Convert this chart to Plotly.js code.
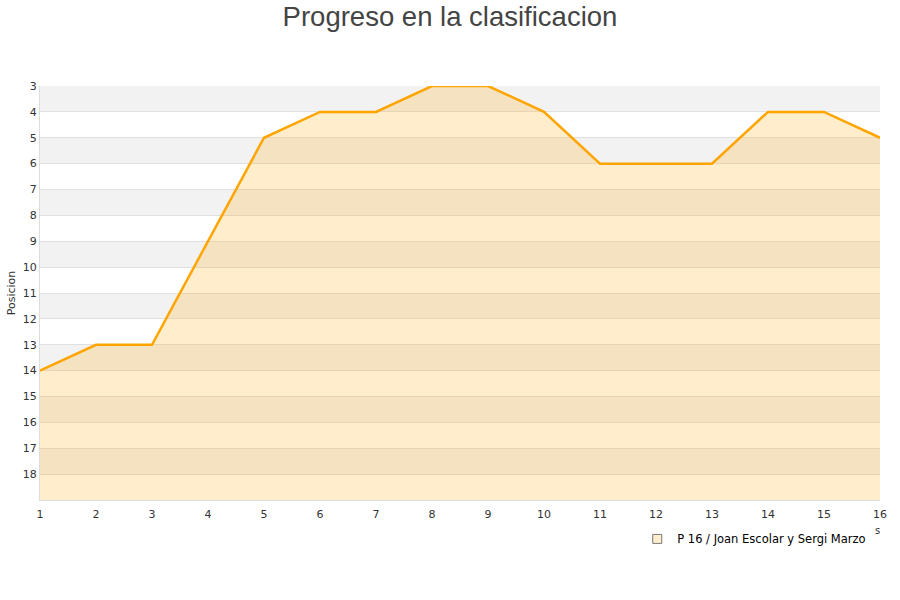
<!DOCTYPE html>
<html>
<head>
<meta charset="utf-8">
<script src="https://cdn.plot.ly/plotly-3.0.1.min.js"></script>
<style>html,body{margin:0;padding:0;background:#fff;}#chart{width:900px;height:600px;}</style>
</head>
<body>
<div id="chart"></div>
<script>
var jornadas = [1,2,3,4,5,6,7,8,9,10,11,12,13,14,15,16];
var posicion = [14,13,13,9,5,4,4,3,3,4,6,6,6,4,4,5];
var serieNombre = 'P 16 / Joan Escolar y Sergi Marzo';
var yTicks = [3,4,5,6,7,8,9,10,11,12,13,14,15,16,17,18];
var yMin = 3, yMax = 19;

var baseline = jornadas.map(function(){ return yMax; });

var bands = [];
for (var v = yMin; v < yMax; v += 2) {
  bands.push({type:'rect', xref:'paper', yref:'y', x0:0, x1:1, y0:v, y1:v+1,
    fillcolor:'#f2f2f2', line:{width:0}, layer:'below'});
}

var traces = [
  {x:jornadas, y:baseline, mode:'lines', line:{width:0, color:'rgba(0,0,0,0)'}, showlegend:false, hoverinfo:'skip'},
  {x:jornadas, y:posicion, mode:'lines', fill:'tonexty', fillcolor:'rgba(255,165,0,0.2)',
   line:{color:'#ffa500', width:2.5}, showlegend:false, name:serieNombre},
  {x:[null], y:[null], mode:'markers', name:serieNombre,
   marker:{symbol:'square', size:9, color:'#ffedcc', line:{color:'#777', width:1}}}
];

var layout = {
  width:900, height:600,
  margin:{l:40, r:20, t:86, b:100},
  paper_bgcolor:'#fff', plot_bgcolor:'rgba(0,0,0,0)',
  font:{family:'DejaVu Sans, sans-serif', size:11, color:'#333'},
  title:{text:'Progreso en la clasificacion', x:0.5, xanchor:'center', y:0.973, yanchor:'middle',
    font:{family:'Liberation Sans, Arial, sans-serif', size:27.5, color:'#444'}},
  xaxis:{range:[1,16], tickvals:jornadas, ticks:'outside', ticklen:4, tickcolor:'rgba(0,0,0,0)',
    showgrid:false, zeroline:false,
    showline:true, linecolor:'#dddddd', linewidth:1, mirror:false,
    tickfont:{size:11, color:'#333'}},
  yaxis:{range:[yMax,yMin], tickvals:yTicks, ticks:'', showgrid:true, gridcolor:'#e0e0e0',
    zeroline:false, showline:true, linecolor:'#dddddd', linewidth:1,
    tickfont:{size:11, color:'#333'},
    title:{text:'Posicion', font:{size:11, color:'#333'}, standoff:4}},
  shapes:bands,
  showlegend:true,
  legend:{orientation:'h', x:0.711, xanchor:'left', y:-0.094, yanchor:'middle',
    font:{size:11.5, color:'#000'}, bgcolor:'rgba(0,0,0,0)'},
  annotations:[{xref:'paper', yref:'paper', x:(877-40)/840, y:(500-530)/414, text:'s',
    showarrow:false, yanchor:'middle', xanchor:'center', font:{size:10, color:'#333'}}]
};

Plotly.newPlot('chart', traces, layout, {displayModeBar:false, staticPlot:true});
</script>
</body>
</html>
